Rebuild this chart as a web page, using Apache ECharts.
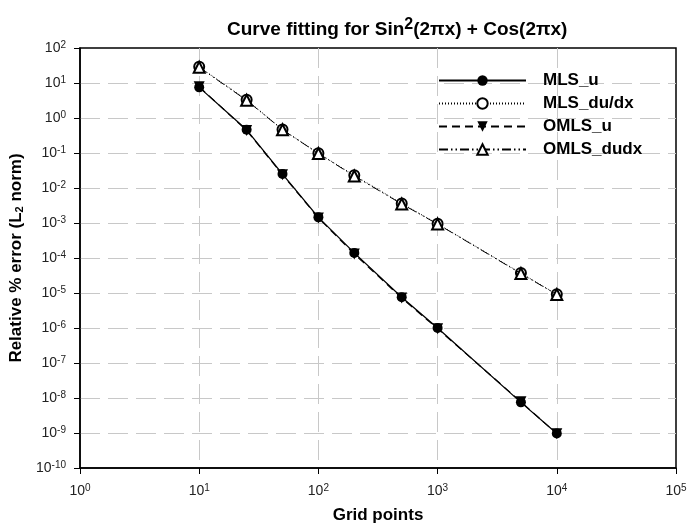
<!DOCTYPE html>
<html>
<head>
<meta charset="utf-8">
<script src="https://cdn.jsdelivr.net/npm/echarts@6/dist/echarts.min.js"></script>
<style>
  html, body { margin: 0; padding: 0; background: #fff; }
  #chart { width: 690px; height: 529px; }
</style>
</head>
<body>
<div id="chart"></div>
<script>
'use strict';

// grid sizes (number of points)
var gridPoints = [10, 25, 50, 100, 200, 500, 1000, 5000, 10000];

// relative % error, L2 norm
var mlsU     = [7.5, 0.46, 0.025, 1.45e-3, 1.4e-4, 7.6e-6, 1.0e-6, 7.5e-9, 9.7e-10];
var mlsDudx  = [29, 3.3, 0.47, 0.098, 0.023, 3.6e-3, 9.5e-4, 3.7e-5, 9.2e-6];
var omlsU    = [7.8, 0.44, 0.024, 1.4e-3, 1.3e-4, 7.2e-6, 0.95e-6, 7.8e-9, 9.5e-10];
var omlsDudx = [28, 3.2, 0.46, 0.097, 0.022, 3.5e-3, 9.3e-4, 3.6e-5, 9.0e-6];

var seriesNames = ['MLS_u', 'MLS_du/dx', 'OMLS_u', 'OMLS_dudx'];

function pairs(ys) {
    return gridPoints.map(function (x, i) { return [x, ys[i]]; });
}

// 10^n labels with superscript
function powLabel(v) {
    var e = Math.round(Math.log10(v));
    return '{b|10}{s|' + e + '}';
}

var labelRich = {
    b: { fontSize: 14, color: '#222', fontFamily: 'Liberation Sans' },
    s: { fontSize: 10, color: '#222', fontFamily: 'Liberation Sans', verticalAlign: 'top', padding: [0, 0, 6, 0] }
};

var gridLine = {
    show: true, showMinLine: false, showMaxLine: false,
    lineStyle: { color: '#c8c8c8', width: 1, type: [20, 8] }
};

var myChart = echarts.init(document.getElementById('chart'));

var option = {
    backgroundColor: '#fff',
    animation: false,
    title: {
        text: '{t|Curve fitting for Sin}{s|2}{t|(2πx) + Cos(2πx)}',
        left: 222,
        top: 12,
        textStyle: {
            rich: {
                t: { fontSize: 19, fontWeight: 'bold', color: '#000', fontFamily: 'Liberation Sans' },
                s: { fontSize: 16, fontWeight: 'bold', color: '#000', fontFamily: 'Liberation Sans', verticalAlign: 'top', padding: [0, 0, 10, 0] }
            }
        }
    },
    legend: {
        orient: 'vertical',
        left: 433,
        top: 67,
        itemWidth: 87,
        itemHeight: 13,
        itemGap: 6,
        data: seriesNames,
        textStyle: { fontSize: 17, fontWeight: 'bold', color: '#000', fontFamily: 'Liberation Sans', padding: [0, 0, 0, 12] }
    },
    grid: { left: 80, right: 14, top: 48, bottom: 51, show: true, borderColor: '#000', borderWidth: 1.5 },
    xAxis: {
        type: 'log',
        logBase: 10,
        min: 1,
        max: 100000,
        interval: 1,
        name: 'Grid points',
        nameLocation: 'middle',
        nameGap: 39,
        nameTextStyle: { fontSize: 17, fontWeight: 'bold', color: '#000', fontFamily: 'Liberation Sans' },
        axisLine: { show: true, lineStyle: { color: '#000', width: 1.5 } },
        axisTick: { show: true, inside: false, length: 6, lineStyle: { color: '#000' } },
        minorTick: { show: false },
        axisLabel: { formatter: powLabel, rich: labelRich, margin: 15 },
        splitLine: gridLine
    },
    yAxis: {
        type: 'log',
        logBase: 10,
        min: 1e-10,
        max: 100,
        interval: 1,
        name: '{t|Relative % error (L}{u|2}{t| norm)}',
        nameLocation: 'middle',
        nameGap: 46,
        nameTextStyle: {
            rich: {
                t: { fontSize: 17, fontWeight: 'bold', color: '#000', fontFamily: 'Liberation Sans' },
                u: { fontSize: 11, fontWeight: 'bold', color: '#000', fontFamily: 'Liberation Sans', verticalAlign: 'bottom', padding: [6, 0, 0, 0] }
            }
        },
        axisLine: { show: true, lineStyle: { color: '#000', width: 1.5 } },
        axisTick: { show: true, inside: false, length: 6, lineStyle: { color: '#000' } },
        axisLabel: { formatter: powLabel, rich: labelRich, margin: 14 },
        splitLine: gridLine
    },
    series: [
        {
            name: 'MLS_u', type: 'line', data: pairs(mlsU),
            symbol: 'circle', symbolSize: 10, z: 4,
            itemStyle: { color: '#000' },
            lineStyle: { color: '#000', width: 1.3, type: 'solid' }
        },
        {
            name: 'MLS_du/dx', type: 'line', data: pairs(mlsDudx),
            symbol: 'emptyCircle', symbolSize: 10, z: 3,
            itemStyle: { color: '#000', borderColor: '#000', borderWidth: 1.2 },
            lineStyle: { color: '#000', width: 1, type: [1, 2] }
        },
        {
            name: 'OMLS_u', type: 'line', data: pairs(omlsU),
            symbol: 'triangle', symbolRotate: 180, symbolSize: 11, z: 5,
            itemStyle: { color: '#000' },
            lineStyle: { color: '#000', width: 1.2, type: [8, 5] }
        },
        {
            name: 'OMLS_dudx', type: 'line', data: pairs(omlsDudx),
            symbol: 'emptyTriangle', symbolSize: 11, z: 5,
            itemStyle: { color: '#000', borderColor: '#000', borderWidth: 1.2 },
            lineStyle: { color: '#000', width: 1, type: [9, 3, 1.5, 3, 1.5, 3] }
        }
    ]
};

myChart.setOption(option);
</script>
</body>
</html>
